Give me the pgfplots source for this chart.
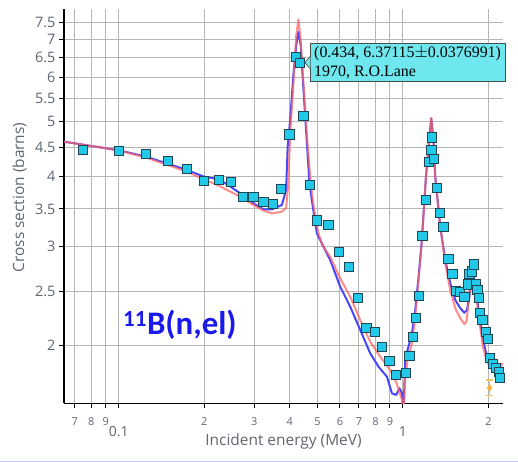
\documentclass[border=0pt]{standalone}
\usepackage{fontspec}
\setmainfont{Open Sans}
\newfontfamily\calib{Carlito}
\newfontfamily\tipfont{Liberation Serif}
\usepackage{pgfplots}
\pgfplotsset{compat=1.18}

\definecolor{gridc}{RGB}{182,182,182}
\definecolor{tickc}{RGB}{95,102,112}
\definecolor{endfblue}{RGB}{70,70,250}
\definecolor{endfred}{RGB}{255,100,100}
\definecolor{exfill}{RGB}{34,200,232}
\definecolor{exedge}{RGB}{30,70,85}
\definecolor{tipfill}{RGB}{110,232,238}
\definecolor{starc}{RGB}{245,180,60}
\definecolor{titleblue}{RGB}{25,25,235}

\begin{document}
\begin{tikzpicture}
\useasboundingbox (0,0) rectangle (518bp,462bp);
\begin{axis}[
  at={(64bp,58.7bp)}, anchor=south west,
  width=439bp, height=394.3bp, scale only axis,
  xmode=log, ymode=log,
  xmin=0.0642, xmax=2.249, ymin=1.58, ymax=7.935,
  axis lines*=left,
  axis line style={black, line width=1.2bp},
  tick align=outside, major tick length=5bp,
  tick style={black, line width=1bp},
  xminorticks=false, yminorticks=false,
  grid=major, grid style={gridc, line width=1bp},
  /pgf/number format/assume math mode=true,
  xtick={0.07,0.08,0.09,0.2,0.3,0.4,0.5,0.6,0.7,0.8,0.9,2},
  xticklabels={7,8,9,2,3,4,5,6,7,8,9,2},
  xticklabel style={font=\fontsize{11}{11}\selectfont, text=tickc, yshift=-6bp},
  extra x ticks={0.1,1},
  extra x tick labels={0.1,1},
  extra x tick style={grid=major, xticklabel style={font=\fontsize{14}{14}\selectfont, text=tickc, yshift=-9bp}},
  ytick={2,2.5,3,3.5,4,4.5,5,5.5,6,6.5,7,7.5},
  yticklabels={2,2.5,3,3.5,4,4.5,5,5.5,6,6.5,7,7.5},
  yticklabel style={font=\fontsize{14.5}{14.5}\selectfont, text=tickc},
]
% ENDF (blue)
\addplot[endfblue, line width=2bp, line join=round] coordinates {
(0.0642,4.61) (0.1,4.45) (0.1248,4.335) (0.1739,4.105) (0.1992,3.996)
(0.2250,3.954) (0.2465,3.84) (0.2674,3.732) (0.2978,3.583) (0.3229,3.495)
(0.3466,3.495) (0.3749,3.558) (0.3882,3.783) (0.3930,4.50) (0.4010,5.04)
(0.4130,6.18) (0.4215,6.85) (0.4289,7.229) (0.4367,6.85) (0.4446,5.93)
(0.4592,4.585) (0.4690,3.888) (0.4837,3.485) (0.4980,3.168) (0.5115,3.083)
(0.5546,2.840) (0.6015,2.547) (0.6524,2.346) (0.7075,2.133) (0.7671,1.939)
(0.8206,1.835) (0.8783,1.762) (0.9147,1.646) (0.9471,1.635) (0.9728,1.680)
(0.9919,1.646) (1.005,1.537) (1.019,1.886) (1.038,1.965) (1.076,2.104)
(1.105,2.315) (1.135,2.653) (1.163,3.04) (1.205,3.996) (1.233,4.548)
(1.248,4.876) (1.258,5.073) (1.268,4.876) (1.284,4.548) (1.299,3.996)
(1.353,3.255) (1.409,2.840) (1.467,2.582) (1.528,2.411) (1.592,2.331)
(1.644,2.289) (1.680,2.315) (1.712,2.444) (1.740,2.653) (1.759,2.727)
(1.797,2.547) (1.846,2.315) (1.897,2.104) (1.949,1.965) (2.001,1.886)
(2.084,1.848) (2.171,1.824) (2.249,1.805)
};
% second evaluation (salmon)
\addplot[endfred, line width=2bp, line join=round, opacity=0.75] coordinates {
(0.0642,4.61) (0.1,4.45) (0.1248,4.32) (0.1739,4.077) (0.1992,3.954)
(0.2250,3.85) (0.2674,3.681) (0.2978,3.558) (0.3229,3.475) (0.3466,3.438)
(0.3749,3.461) (0.3882,3.515) (0.3948,3.861) (0.4010,4.737) (0.4124,5.93)
(0.4215,7.135) (0.4289,7.606) (0.4367,6.98) (0.4470,5.83) (0.4613,4.585)
(0.4739,3.888) (0.4869,3.485) (0.5045,3.168) (0.5199,3.020) (0.5546,2.879)
(0.6015,2.635) (0.6524,2.444) (0.7075,2.222) (0.7671,2.033) (0.8320,1.912)
(0.9022,1.810) (0.9503,1.715) (0.9919,1.602) (1.005,1.506) (1.019,1.762)
(1.038,1.886) (1.076,2.020) (1.105,2.252) (1.135,2.617) (1.164,3.04)
(1.205,3.996) (1.233,4.548) (1.248,4.876) (1.258,5.073) (1.268,4.876)
(1.284,4.548) (1.299,3.996) (1.353,3.255) (1.409,2.803) (1.467,2.512)
(1.528,2.331) (1.592,2.237) (1.644,2.186) (1.671,2.206) (1.702,2.379)
(1.736,2.617) (1.759,2.707) (1.812,2.444) (1.861,2.192) (1.913,1.992)
(1.966,1.886) (2.031,1.824) (2.114,1.810) (2.199,1.824) (2.240,1.863)
};
% EXFOR points
\addplot[only marks, mark=square*, mark size=4.6bp,
  mark options={fill=exfill, draw=exedge, line width=1bp}] coordinates {
(0.0747,4.455) (0.1,4.442) (0.1248,4.378) (0.1495,4.254) (0.1739,4.117)
(0.1992,3.929) (0.2250,3.940) (0.2485,3.913) (0.2733,3.681) (0.2978,3.681)
(0.3229,3.606) (0.3484,3.572) (0.3727,3.793) (0.3987,4.747) (0.4195,6.527)
(0.434,6.371) (0.4467,5.127) (0.4716,3.856) (0.4992,3.339) (0.5471,3.274)
(0.5976,2.931) (0.6471,2.763) (0.6960,2.429) (0.7449,2.153) (0.7977,2.118)
(0.8455,1.988) (0.8964,1.877) (0.9464,1.777) (1.0247,1.789) (1.055,1.915)
(1.087,2.075) (1.111,2.240) (1.137,2.453) (1.172,3.137) (1.203,3.631)
(1.235,4.248) (1.260,4.449) (1.268,4.690) (1.289,4.289) (1.321,3.809)
(1.353,3.439) (1.390,3.255) (1.446,2.849) (1.494,2.686) (1.541,2.502)
(1.592,2.490) (1.647,2.444) (1.698,2.570) (1.716,2.682) (1.747,2.710)
(1.773,2.788) (1.805,2.575) (1.830,2.512) (1.849,2.434) (1.867,2.287)
(1.905,2.222) (1.954,2.118) (1.997,2.053) (2.025,1.899) (2.071,1.856)
(2.127,1.823) (2.171,1.798) (2.201,1.752)
};
% other set with error bar
\addplot[only marks, mark=diamond*, mark size=3.5bp, color=starc,
  error bars/.cd, y dir=both, y explicit,
  error bar style={starc!80, line width=1.2bp},
  error mark options={rotate=90, mark size=3.5bp, starc!80, line width=1.2bp}] coordinates {
(2.018,1.684) +- (0,0.054)
};
\coordinate (tipP) at (axis cs:0.434,6.37115);
\end{axis}
% tooltip
\node[anchor=west, fill=tipfill, draw=black!70, line width=0.6bp,
  inner xsep=4bp, inner ysep=3bp, align=left,
  font=\tipfont\fontsize{16}{18.5}\selectfont] (tip) at ([xshift=10bp]tipP)
  {(0.434, 6.37115$\pm$0.0376991)\\1970, R.O.Lane};
\fill[tipfill] ([yshift=6bp,xshift=0.4bp]tip.west) -- ([xshift=-5bp]tip.west) -- ([yshift=-6bp,xshift=0.4bp]tip.west) -- cycle;
\draw[black!70, line width=0.6bp] ([yshift=6bp]tip.west) -- ([xshift=-5bp]tip.west) -- ([yshift=-6bp]tip.west);
% axis titles
\node[font=\fontsize{15.5}{15.5}\selectfont, text=tickc] at (283.5bp,21bp) {Incident energy (MeV)};
\node[font=\fontsize{15.5}{15.5}\selectfont, text=tickc, rotate=90] at (19.5bp,264.5bp) {Cross section (barns)};
% reaction label
\node[anchor=base west, inner sep=0pt, text=titleblue, font=\calib\bfseries\fontsize{33}{33}\selectfont]
  at (123bp,127bp) {\textsuperscript{11}B(n,el)};
\draw[color={rgb,255:red,200;green,200;blue,250}, line width=1.5bp] (0,0.75bp) -- (518bp,0.75bp);
\end{tikzpicture}
\end{document}
